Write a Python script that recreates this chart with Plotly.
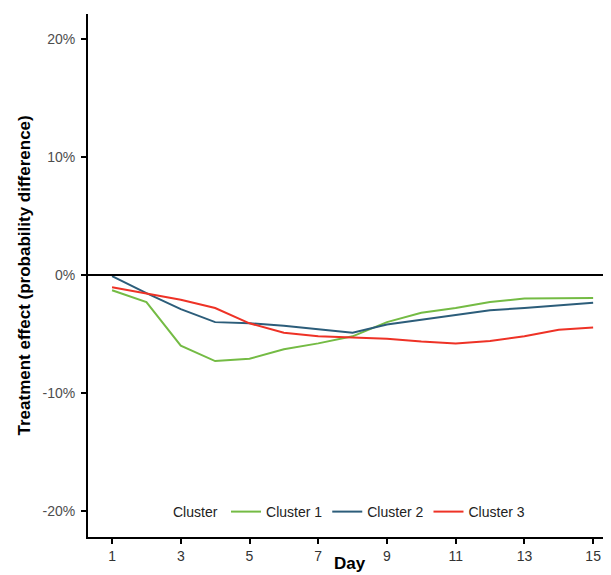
import plotly.graph_objects as go

days = list(range(1, 16))
cluster1 = [-1.3, -2.3, -6.0, -7.3, -7.1, -6.3, -5.8, -5.2, -4.0, -3.2, -2.8, -2.3, -2.0, -2.0, -1.95]
cluster2 = [-0.1, -1.55, -2.9, -4.0, -4.1, -4.3, -4.6, -4.9, -4.2, -3.8, -3.4, -3.0, -2.8, -2.6, -2.35]
cluster3 = [-1.05, -1.55, -2.1, -2.8, -4.1, -4.9, -5.2, -5.3, -5.4, -5.65, -5.8, -5.6, -5.2, -4.65, -4.45]
series_names = ["Cluster 1", "Cluster 2", "Cluster 3"]
colors = ["#74BB44", "#2C5D7A", "#EE3226"]
x_ticks = [1, 3, 5, 7, 9, 11, 13, 15]
y_ticks = [-20, -10, 0, 10, 20]
y_tick_labels = ["-20%", "-10%", "0%", "10%", "20%"]

fig = go.Figure()
for name, vals, col in zip(series_names, [cluster1, cluster2, cluster3], colors):
    fig.add_trace(go.Scatter(x=days, y=vals, mode="lines", name=name,
                             line=dict(color=col, width=2)))

fig.add_hline(y=0, line=dict(color="black", width=2))

fig.add_annotation(text="<b>Day</b>", xref="paper", yref="paper", x=0.5, y=0,
                   yshift=-26, yanchor="middle", showarrow=False,
                   font=dict(color="black", size=17))
fig.add_annotation(text="<b>Treatment effect (probability difference)</b>",
                   xref="paper", yref="paper", x=0, y=0.5, xshift=-64,
                   xanchor="center", yanchor="middle", textangle=-90, showarrow=False,
                   font=dict(color="black", size=17))
fig.add_annotation(text="Cluster", xref="paper", yref="paper", x=0.158, y=0.0478,
                   xanchor="left", yanchor="middle", showarrow=False,
                   font=dict(color="#222222", size=14))

fig.update_layout(
    width=603, height=567,
    margin=dict(l=80, r=0, t=6, b=38, autoexpand=False),
    plot_bgcolor="white", paper_bgcolor="white",
    font=dict(family="Liberation Sans, Arial, sans-serif", size=14, color="#4D4D4D"),
    showlegend=True,
    legend=dict(orientation="h", x=0.2639, xanchor="left", y=0.0478, yanchor="middle",
                font=dict(color="#222222", size=14), bgcolor="rgba(0,0,0,0)"),
    xaxis=dict(range=[0.3, 15.52], tickmode="array", tickvals=x_ticks,
               showgrid=False, zeroline=False, showline=True, linecolor="black",
               linewidth=2, ticks="outside", tickcolor="black", ticklen=5, tickwidth=2,
               tickfont=dict(color="#333333", size=14)),
    yaxis=dict(range=[-22.2, 22.1], tickmode="array", tickvals=y_ticks,
               ticktext=y_tick_labels, showgrid=False, zeroline=False, showline=True,
               linecolor="black", linewidth=2, ticks="outside", tickcolor="black",
               ticklen=5, tickwidth=2, ticklabelstandoff=3,
               tickfont=dict(color="#4D4D4D", size=14)),
)

fig.write_html("out.html")
